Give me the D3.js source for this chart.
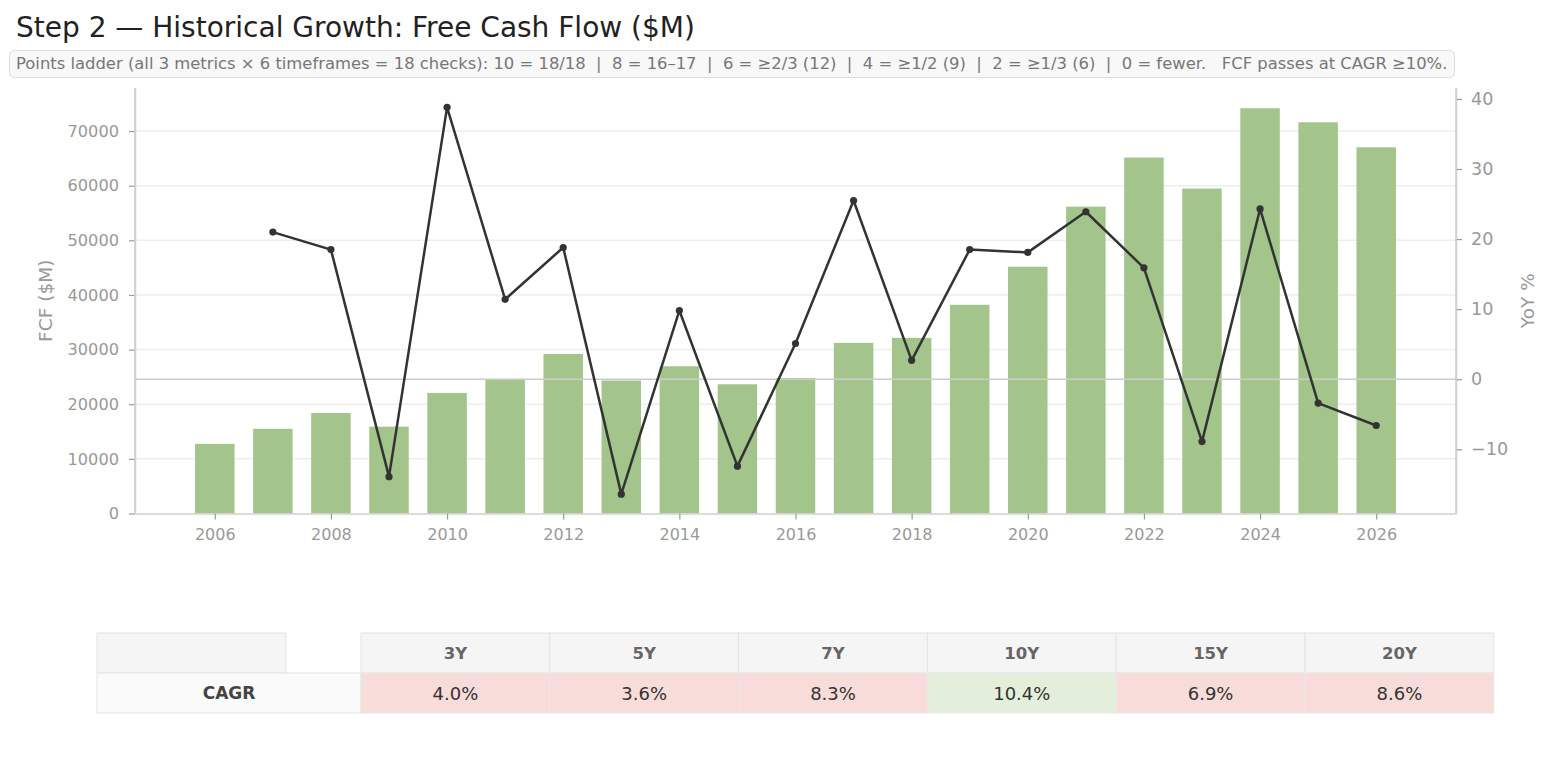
<!DOCTYPE html>
<html>
<head>
<meta charset="utf-8">
<script src="https://cdn.jsdelivr.net/npm/d3@7"></script>
<style>
  body { margin: 0; background: #fff; }
  svg { font-family: "DejaVu Sans", sans-serif; }
</style>
</head>
<body>
<svg id="chart" width="1554" height="773"></svg>
<script>
// data
const years = [2006, 2007, 2008, 2009, 2010, 2011, 2012, 2013, 2014, 2015, 2016,
               2017, 2018, 2019, 2020, 2021, 2022, 2023, 2024, 2025, 2026];
const fcf = [12750, 15500, 18400, 15900, 22070, 24650, 29200, 24350, 26950, 23650, 24800,
             31230, 32150, 38200, 45170, 56170, 65150, 59470, 74170, 71600, 67020];
const yoyYears = years.slice(1);
const yoy = [21.0, 18.5, -13.9, 38.8, 11.4, 18.8, -16.4, 9.8, -12.4, 5.1,
             25.5, 2.7, 18.5, 18.1, 23.9, 15.9, -8.9, 24.3, -3.4, -6.6];
const leftTicks = [0, 10000, 20000, 30000, 40000, 50000, 60000, 70000];
const rightTicks = [-10, 0, 10, 20, 30, 40];
const xTicks = [2006, 2008, 2010, 2012, 2014, 2016, 2018, 2020, 2022, 2024, 2026];
const cagrLabels = ["3Y", "5Y", "7Y", "10Y", "15Y", "20Y"];
const cagrValues = [4.0, 3.6, 8.3, 10.4, 6.9, 8.6];
const cagrPass = 10;

const svg = d3.select("svg#chart");

// title + subtitle box
svg.append("text")
  .attr("x", 16).attr("y", 37)
  .attr("font-size", 28).attr("fill", "#222")
  .text("Step 2 \u2014 Historical Growth: Free Cash Flow ($M)");

svg.append("rect")
  .attr("x", 9.5).attr("y", 50.5).attr("width", 1445).attr("height", 27)
  .attr("rx", 5).attr("fill", "#f8f8f8").attr("stroke", "#dddddd");
svg.append("text")
  .attr("x", 16).attr("y", 69)
  .attr("font-size", 16.4).attr("fill", "#777")
  .style("white-space", "pre")
  .text("Points ladder (all 3 metrics \u00d7 6 timeframes = 18 checks): 10 = 18/18  |  8 = 16\u201317  |  6 = \u22652/3 (12)  |  4 = \u22651/2 (9)  |  2 = \u22651/3 (6)  |  0 = fewer.   FCF passes at CAGR \u226510%.");

// plot area
const pLeft = 135, pRight = 1456, pTop = 88, pBottom = 513.5;
const barW = 0.68;

const xLo = years[0] - barW / 2, xHi = years[years.length - 1] + barW / 2;
const xPad = (xHi - xLo) * 0.05;
const x = d3.scaleLinear().domain([xLo - xPad, xHi + xPad]).range([pLeft, pRight]);

const yL = d3.scaleLinear().domain([0, d3.max(fcf) * 1.05]).range([pBottom, pTop]);
const yMin = d3.min(yoy), yMax = d3.max(yoy), yPad = (yMax - yMin) * 0.05;
const yR = d3.scaleLinear().domain([yMin - yPad, yMax + yPad]).range([pBottom, pTop]);

const chart = svg.append("g");

// grid
chart.append("g").selectAll("line")
  .data(leftTicks.slice(1))
  .join("line")
  .attr("x1", pLeft).attr("x2", pRight)
  .attr("y1", d => yL(d)).attr("y2", d => yL(d))
  .attr("stroke", "#eeeeee").attr("stroke-width", 1.5);

// bars
chart.append("g").selectAll("rect")
  .data(years)
  .join("rect")
  .attr("x", d => x(d - barW / 2))
  .attr("width", d => x(d + barW / 2) - x(d - barW / 2))
  .attr("y", (d, i) => yL(fcf[i]))
  .attr("height", (d, i) => pBottom - yL(fcf[i]))
  .attr("fill", "#a3c48b");

// zero line for YoY
chart.append("line")
  .attr("x1", pLeft).attr("x2", pRight)
  .attr("y1", yR(0)).attr("y2", yR(0))
  .attr("stroke", "#cccccc").attr("stroke-width", 1.6);

// YoY line
const line = d3.line().x((d, i) => x(yoyYears[i])).y(d => yR(d));
chart.append("path")
  .datum(yoy)
  .attr("d", line)
  .attr("fill", "none").attr("stroke", "#333333").attr("stroke-width", 2.5)
  .attr("stroke-linejoin", "round");
chart.append("g").selectAll("circle")
  .data(yoy)
  .join("circle")
  .attr("cx", (d, i) => x(yoyYears[i]))
  .attr("cy", d => yR(d))
  .attr("r", 3.6).attr("fill", "#333333");

// axes
function styleAxis(g, size) {
  g.select(".domain").attr("stroke", "#d0d0d0").attr("stroke-width", 1.6);
  g.selectAll(".tick line").attr("stroke", "#999").attr("stroke-width", 1.2);
  g.selectAll(".tick text").attr("fill", "#999").attr("font-size", size)
    .attr("font-family", "DejaVu Sans, sans-serif");
}

svg.append("g")
  .attr("transform", `translate(0,${pBottom})`)
  .call(d3.axisBottom(x).tickValues(xTicks).tickFormat(d3.format("d")).tickSize(6).tickPadding(9).tickSizeOuter(0))
  .call(g => styleAxis(g, 16));

svg.append("g")
  .attr("transform", `translate(${pLeft},0)`)
  .call(d3.axisLeft(yL).tickValues(leftTicks).tickFormat(d3.format("d")).tickSize(6).tickPadding(10).tickSizeOuter(0))
  .call(g => styleAxis(g, 16.2));

svg.append("g")
  .attr("transform", `translate(${pRight},0)`)
  .call(d3.axisRight(yR).tickValues(rightTicks).tickFormat(d => d < 0 ? "\u2212" + Math.abs(d) : d).tickSize(6).tickPadding(9).tickSizeOuter(0))
  .call(g => styleAxis(g, 17.6));

// extend spines to the plot top
svg.append("line").attr("x1", pLeft).attr("x2", pLeft).attr("y1", pTop).attr("y2", pBottom)
  .attr("stroke", "#d0d0d0").attr("stroke-width", 1.6);
svg.append("line").attr("x1", pRight).attr("x2", pRight).attr("y1", pTop).attr("y2", pBottom)
  .attr("stroke", "#d0d0d0").attr("stroke-width", 1.6);

// axis titles
svg.append("text")
  .attr("transform", `translate(52,${(pTop + pBottom) / 2}) rotate(-90)`)
  .attr("text-anchor", "middle").attr("font-size", 18.5).attr("fill", "#999")
  .text("FCF ($M)");
svg.append("text")
  .attr("transform", `translate(1534,${(pTop + pBottom) / 2}) rotate(-90)`)
  .attr("text-anchor", "middle").attr("font-size", 18.5).attr("fill", "#999")
  .text("YoY %");

// CAGR table
const tTop = 633, rowH = 40, tLeft = 97, labelW = 189, gapEnd = 361, colW = 188.8;
const table = svg.append("g");

table.append("rect")
  .attr("x", tLeft).attr("y", tTop).attr("width", labelW).attr("height", rowH)
  .attr("fill", "#f5f5f5").attr("stroke", "#e3e3e3");

table.selectAll("rect.head")
  .data(cagrLabels)
  .join("rect").attr("class", "head")
  .attr("x", (d, i) => gapEnd + i * colW).attr("y", tTop)
  .attr("width", colW).attr("height", rowH)
  .attr("fill", "#f5f5f5").attr("stroke", "#e3e3e3");
table.selectAll("text.head")
  .data(cagrLabels)
  .join("text").attr("class", "head")
  .attr("x", (d, i) => gapEnd + i * colW + colW / 2).attr("y", tTop + rowH / 2 + 6)
  .attr("text-anchor", "middle").attr("font-size", 16.5).attr("font-weight", "bold").attr("fill", "#666")
  .text(d => d);

table.append("rect")
  .attr("x", tLeft).attr("y", tTop + rowH).attr("width", gapEnd - tLeft).attr("height", rowH)
  .attr("fill", "#fafafa").attr("stroke", "#e3e3e3");
table.append("text")
  .attr("x", (tLeft + gapEnd) / 2).attr("y", tTop + rowH * 1.5 + 6)
  .attr("text-anchor", "middle").attr("font-size", 17).attr("font-weight", "bold").attr("fill", "#444")
  .text("CAGR");

table.selectAll("rect.val")
  .data(cagrValues)
  .join("rect").attr("class", "val")
  .attr("x", (d, i) => gapEnd + i * colW).attr("y", tTop + rowH)
  .attr("width", colW).attr("height", rowH)
  .attr("fill", d => d >= cagrPass ? "#e4efdb" : "#f8dcd9").attr("stroke", "#e8e8e8");
table.selectAll("text.val")
  .data(cagrValues)
  .join("text").attr("class", "val")
  .attr("x", (d, i) => gapEnd + i * colW + colW / 2).attr("y", tTop + rowH * 1.5 + 6.5)
  .attr("text-anchor", "middle").attr("font-size", 18).attr("fill", "#333")
  .text(d => d.toFixed(1) + "%");
</script>
</body>
</html>
